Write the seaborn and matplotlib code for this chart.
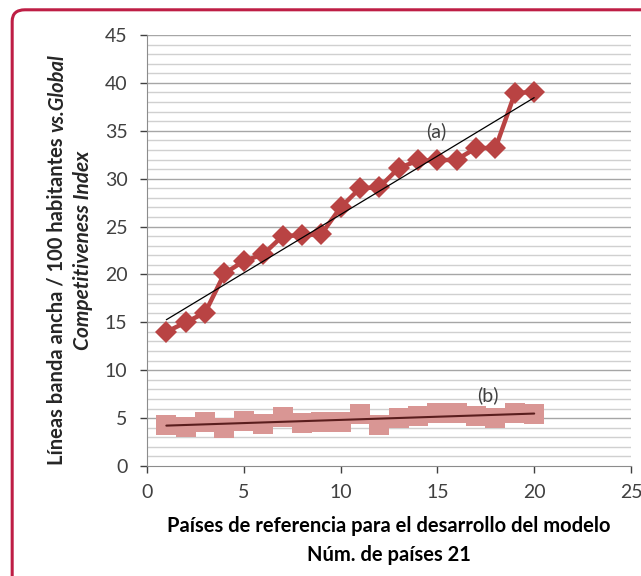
import matplotlib
matplotlib.use("Agg")
from matplotlib import pyplot as plt
from matplotlib.patches import FancyBboxPatch
import seaborn as sn
import numpy as np
import pandas as pd

sn.set_style("white")
plt.rcParams['font.family'] = ['Lato', 'DejaVu Sans']

# Datos
paises = list(range(1, 21))
serie_a = [14.0, 15.0, 16.0, 20.1, 21.4, 22.1, 24.0, 24.1, 24.2, 27.0,
           29.0, 29.1, 31.1, 31.9, 31.9, 32.0, 33.2, 33.2, 38.9, 39.1]
serie_b = [4.3, 4.1, 4.6, 4.0, 4.7, 4.4, 5.1, 4.5, 4.6, 4.6,
           5.4, 4.3, 5.0, 5.2, 5.5, 5.5, 5.2, 5.0, 5.5, 5.4]
xticks = [0, 5, 10, 15, 20, 25]
yticks = [0, 5, 10, 15, 20, 25, 30, 35, 40, 45]

df = pd.DataFrame({'pais': paises, 'a': serie_a, 'b': serie_b})

fig = plt.figure(figsize=(6.41, 5.76), dpi=100)
ax = fig.add_axes([0.2293, 0.191, 0.7551, 0.7482])

# marco rojo redondeado
marco = FancyBboxPatch((0.019, -0.05), 1.2, 1.033, boxstyle="round,pad=0,rounding_size=0.02",
                       transform=fig.transFigure, fc='none', ec='#be1e45', lw=2.2,
                       figure=fig, zorder=0)
fig.patches.append(marco)

# rejilla horizontal
for v in np.arange(1, 46):
    ax.axhline(v, color='#a6a6a6' if v % 5 == 0 else '#d0d0d0', lw=1.0, zorder=0)

sn.lineplot(data=df, x='pais', y='a', ax=ax, color='#b94343', lw=3.2, marker='D',
            markersize=11, markeredgewidth=0, zorder=3)
sn.scatterplot(data=df, x='pais', y='b', ax=ax, color='#d99694', marker='s', s=210,
               linewidth=0, zorder=3)
sn.regplot(data=df, x='pais', y='a', ax=ax, scatter=False, ci=None,
           line_kws={'color': 'black', 'lw': 0.9, 'zorder': 4})
sn.regplot(data=df, x='pais', y='b', ax=ax, scatter=False, ci=None,
           line_kws={'color': '#5a1d1d', 'lw': 1.5, 'zorder': 4})

ax.text(14.95, 35.0, '(a)', fontsize=14, color='#404040', ha='center', va='center')
ax.text(17.6, 7.4, '(b)', fontsize=14, color='#404040', ha='center', va='center')

ax.set_xlim(0, 25)
ax.set_ylim(0, 45)
ax.set_xticks(xticks)
ax.set_yticks(yticks)
ax.tick_params(axis='both', labelsize=14, colors='#404040', length=5, width=1,
               direction='out', bottom=True, left=True)
ax.tick_params(axis='y', pad=9)
ax.tick_params(axis='x', pad=8)
for s in ['top', 'right']:
    ax.spines[s].set_visible(False)
for s in ['left', 'bottom']:
    ax.spines[s].set_color('#8c8c8c')
ax.set_xlabel('Países de referencia para el desarrollo del modelo\nNúm. de países 21',
              fontsize=14.5, fontweight='bold', color='black', labelpad=11, linespacing=1.55)
ax.set_ylabel('')

# etiqueta del eje y con partes en cursiva
fig.canvas.draw()
r = fig.canvas.get_renderer()
x1 = 57 / 641
t1 = fig.text(x1, 1 - 465 / 576, 'Líneas banda ancha / 100 habitantes ', rotation=90,
              ha='center', va='bottom', fontsize=14.5, fontweight='bold')
h1 = t1.get_window_extent(r).height / fig.bbox.height
fig.text(x1, 1 - 465 / 576 + h1, 'vs.Global', rotation=90, ha='center', va='bottom',
         fontsize=14.5, fontweight='bold', style='italic')
fig.text(83 / 641, 1 - 250 / 576, 'Competitiveness Index', rotation=90, ha='center',
         va='center', fontsize=15, fontweight='bold', style='italic')

fig.savefig('out.png', dpi=100)
